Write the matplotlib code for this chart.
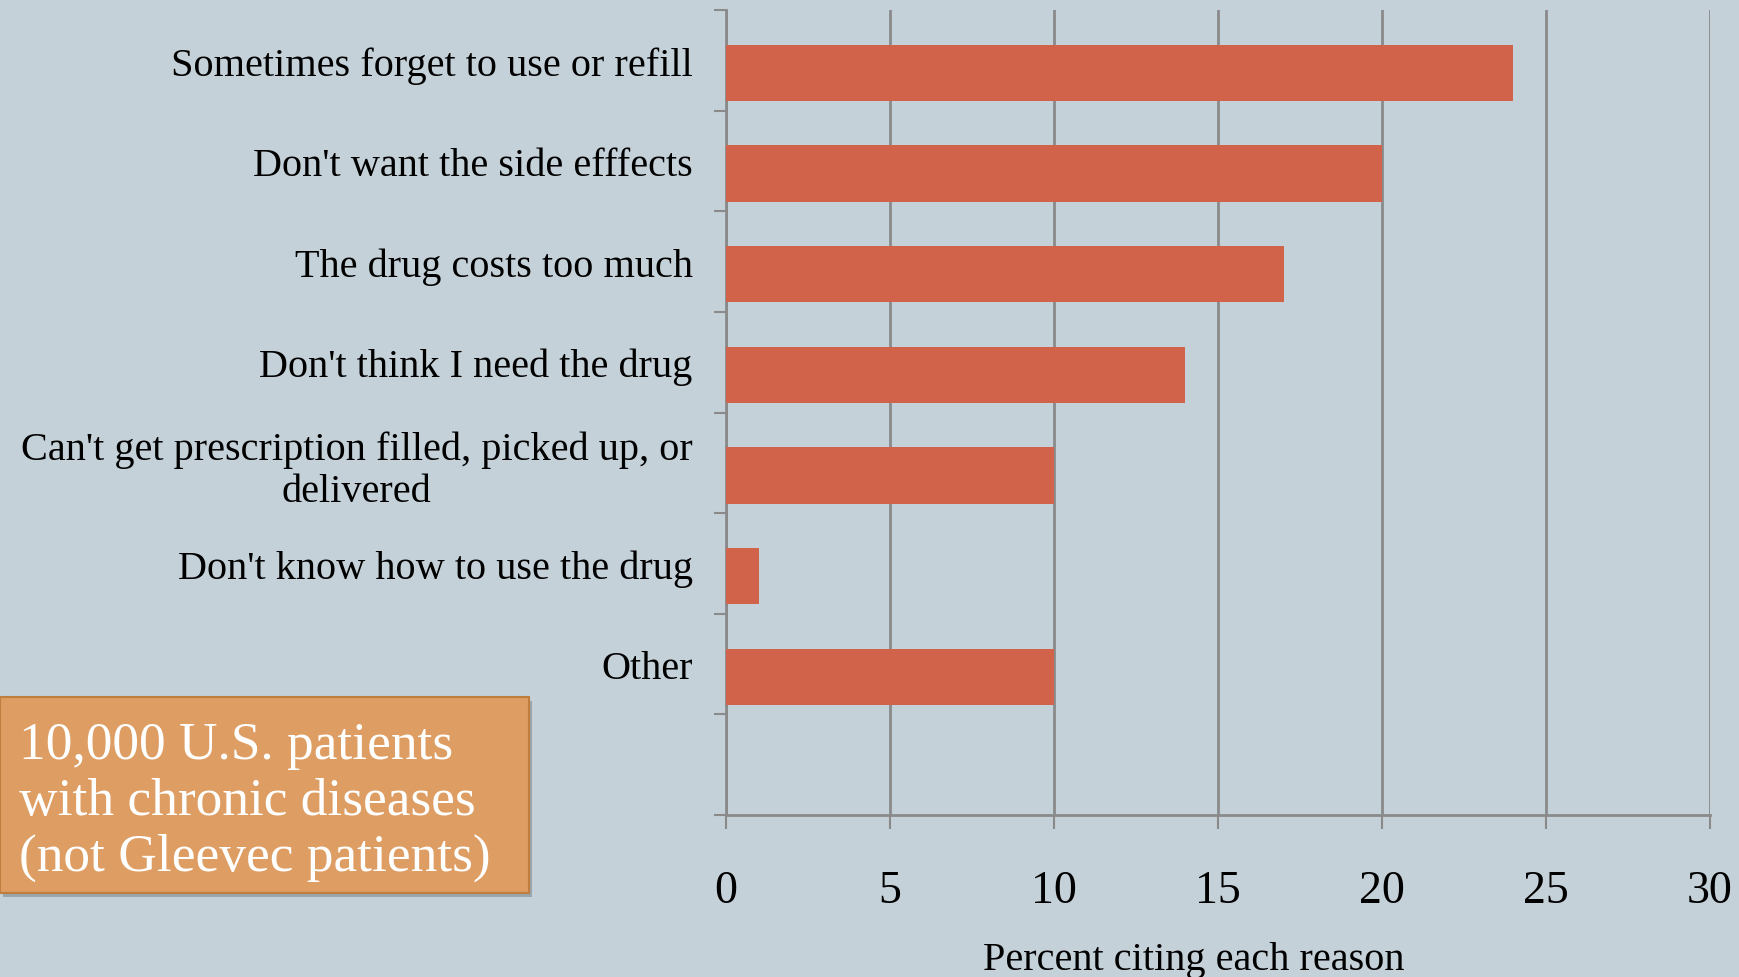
import matplotlib
matplotlib.use("Agg")
import matplotlib.pyplot as plt
from matplotlib.patches import FancyBboxPatch
import matplotlib.patheffects as pe
from matplotlib.ticker import FixedLocator

# Reasons for not taking medication as prescribed (top to bottom)
reasons = [
    "Sometimes forget to use or refill",
    "Don't want the side efffects",
    "The drug costs too much",
    "Don't think I need the drug",
    "Can't get prescription filled, picked up, or\ndelivered",
    "Don't know how to use the drug",
    "Other",
]
percent = [24, 20, 17, 14, 10, 1, 10]
x_ticks = [0, 5, 10, 15, 20, 25, 30]

BG = "#C5D1D8"
BAR = "#D1634A"
GRID = "#8A8A8A"
SERIF = "Liberation Serif"

fig = plt.figure(figsize=(17.4, 9.78), dpi=100, facecolor=BG)
ax = fig.add_axes([0.4172, 0.1656, 0.5655, 0.8231])
ax.set_facecolor(BG)

n_bands = len(reasons) + 1  # one empty band below the last category
centers = [i + 0.5 for i in range(len(reasons))]
bar_pos = [c + 0.125 for c in centers]
ax.barh(bar_pos, percent, height=0.56, color=BAR, zorder=3)

ax.set_xlim(0, 30)
ax.set_ylim(n_bands, 0)

# vertical gridlines
ax.xaxis.set_major_locator(FixedLocator(x_ticks))
ax.grid(axis="x", color=GRID, linewidth=2, zorder=1)
ax.set_axisbelow(True)

for s in ("top", "right"):
    ax.spines[s].set_visible(False)
for s in ("left", "bottom"):
    ax.spines[s].set_color(GRID)
    ax.spines[s].set_linewidth(2)

ax.set_xticklabels([str(t) for t in x_ticks], fontsize=33, family=SERIF)
ax.tick_params(axis="x", length=10, width=1.5, color=GRID, pad=29)

# category boundaries as tick marks, labels at band centres
ax.yaxis.set_major_locator(FixedLocator(centers))
ax.yaxis.set_minor_locator(FixedLocator(list(range(n_bands + 1))))
ax.set_yticklabels(reasons, fontsize=29, family=SERIF, multialignment="center")
ax.tick_params(axis="y", which="major", length=0, pad=24)
ax.tick_params(axis="y", which="minor", length=9, width=1.5, color=GRID)

ax.set_xlabel("Percent citing each reason", fontsize=29, family=SERIF)
ax.xaxis.set_label_coords(0.4756, -0.156)

# annotation box
box = FancyBboxPatch((0.0, 0.086), 0.304, 0.2, boxstyle="square,pad=0",
                     transform=fig.transFigure, facecolor="#DE9E63",
                     edgecolor="#C07E3E", linewidth=1.5, zorder=5,
                     path_effects=[pe.withSimplePatchShadow(offset=(2, -3), shadow_rgbFace="#7D8A91", alpha=0.6)])
fig.patches.append(box)
fig.text(0.011, 0.180, "10,000 U.S. patients\nwith chronic diseases\n(not Gleevec patients)",
         color="white", fontsize=38.4, family=SERIF, va="center", ha="left",
         linespacing=1.2, zorder=6)

fig.savefig("out.png", dpi=100, facecolor=BG)
